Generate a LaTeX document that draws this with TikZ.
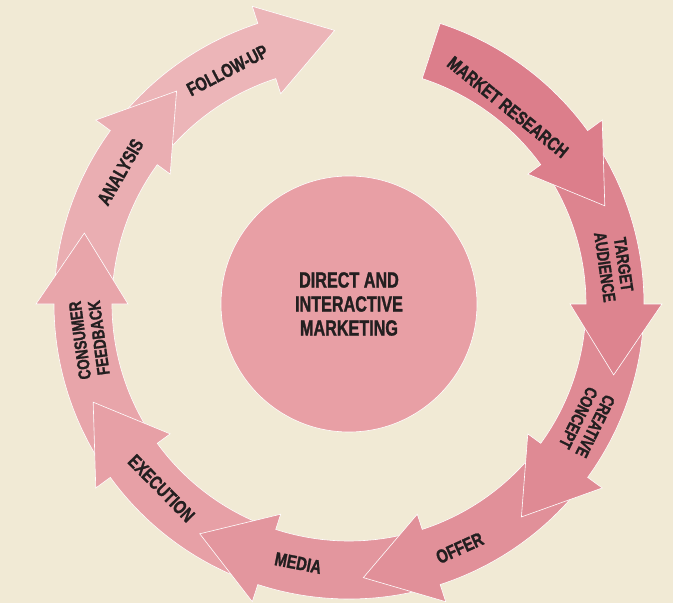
\documentclass[tikz,border=0pt]{standalone}
\usepackage{fontspec}
\newfontfamily\StepFace{Liberation Sans}[FakeStretch=0.77, BoldFeatures={FakeBold=1.3}]
\newfontfamily\HubFace{Liberation Sans}[FakeStretch=0.735, BoldFeatures={FakeBold=1.3}]
\definecolor{Backdrop}{HTML}{F1EAD5}
\definecolor{Hub}{HTML}{E89FA5}
\definecolor{Ink}{HTML}{231F20}
\definecolor{StepA}{HTML}{DC7E8B}
\definecolor{StepB}{HTML}{DD848F}
\definecolor{StepC}{HTML}{DF8A94}
\definecolor{StepD}{HTML}{E19099}
\definecolor{StepE}{HTML}{E3969E}
\definecolor{StepF}{HTML}{E7A0A6}
\definecolor{StepG}{HTML}{E8A5AA}
\definecolor{StepH}{HTML}{EAAEB2}
\definecolor{StepI}{HTML}{ECB5B8}
\newcommand{\RingIn}{237}
\newcommand{\RingOut}{295}
\newcommand{\HeadIn}{221}
\newcommand{\HeadOut}{313}
\newcommand{\TipR}{274}
% #1 colour, #2 tail angle, #3 angle of the head base
\newcommand\CycleArrow[3]{%
  \path[fill=#1, draw=white, line width=0.6pt, line join=miter]
    (#2:\RingOut) arc[start angle=#2, end angle=#3, radius=\RingOut]
    -- (#3:\HeadOut) -- ({#3-15}:\TipR) -- (#3:\HeadIn) -- (#3:\RingIn)
    arc[start angle=#3, end angle=#2, radius=\RingIn] -- cycle;
}

\begin{document}
\begin{tikzpicture}[x=1pt, y=1pt,
                    hub/.style = { circle, fill=Hub, draw=white, line width=0.6pt,
                                   minimum size=256pt, inner sep=0pt, align=center, text=Ink,
                                   font=\HubFace\bfseries\fontsize{22}{24}\selectfont },
                    steplabel/.style = { text=Ink, inner sep=0pt,
                                   font=\StepFace\bfseries\fontsize{19}{19}\selectfont },
                    pairlabel/.style = { steplabel, align=center,
                                   font=\StepFace\bfseries\fontsize{17.5}{19}\selectfont }]

  \fill[Backdrop] (-349,-299) rectangle (324,304);
  \useasboundingbox (-349,-299) rectangle (324,304);

  \CycleArrow{StepI}{-220}{-252}
  \CycleArrow{StepH}{-184}{-216}
  \CycleArrow{StepG}{-148}{-180}
  \CycleArrow{StepF}{-112}{-144}
  \CycleArrow{StepE}{-76}{-108}
  \CycleArrow{StepD}{-40}{-72}
  \CycleArrow{StepC}{-4}{-36}
  \CycleArrow{StepB}{32}{0}
  \CycleArrow{StepA}{72}{36}

  \node[hub] (hub) at(0, 0) {DIRECT AND\\INTERACTIVE\\MARKETING};

  \node[steplabel, rotate=-38.9] (market) at(51.1:253) {MARKET RESEARCH};
  \node[pairlabel, rotate=-81.8] (target) at(8.2:268) {TARGET\\AUDIENCE};
  \node[pairlabel, rotate=-116.4] (creative) at(-26.4:265.6) {CREATIVE\\CONCEPT};
  \node[steplabel, rotate=24.4] (offer) at(-65.6:268) {OFFER};
  \node[steplabel, rotate=-11.1] (media) at(-101.1:264) {MEDIA};
  \node[steplabel, rotate=-45.5] (execution) at(-135.5:263) {EXECUTION};
  \node[pairlabel, rotate=97.7] (consumer) at(187.7:262) {CONSUMER\\FEEDBACK};
  \node[steplabel, rotate=60] (analysis) at(150:264) {ANALYSIS};
  \node[steplabel, rotate=27.5] (followup) at(117.5:263.5) {FOLLOW-UP};
\end{tikzpicture}
\end{document}
